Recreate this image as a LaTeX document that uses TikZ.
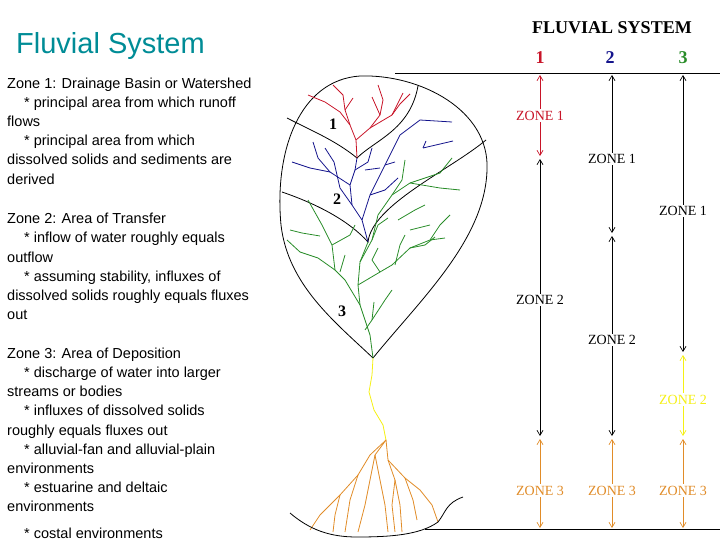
\documentclass[tikz,border=0pt]{standalone}
\usepackage{fontspec}
\setmainfont{Liberation Serif}
\newfontfamily\arial{Liberation Sans}
\usetikzlibrary{arrows.meta}
\definecolor{teal1}{RGB}{0,140,150}
\definecolor{redz}{RGB}{200,20,40}
\definecolor{bluez}{RGB}{20,20,140}
\definecolor{greenz}{RGB}{40,140,40}
\definecolor{yellz}{RGB}{245,240,20}
\definecolor{orz}{RGB}{225,140,40}
\begin{document}
\begin{tikzpicture}[x=1pt,y=-1pt,
  txt/.style={anchor=base west,font=\arial\fontsize{14.5}{16}\selectfont,inner sep=0pt},
  zl/.style={font=\fontsize{14}{15}\selectfont,fill=white,inner sep=1.5pt},
  hd/.style={font=\bfseries\fontsize{18}{20}\selectfont},
  arr/.style={{Straight Barb[length=5pt,width=6pt]}-{Straight Barb[length=5pt,width=6pt]},line width=0.7pt},
  riv/.style={line width=0.8pt,line join=round}]
\useasboundingbox (0,0) rectangle (720,540);
% left text
\node[anchor=west,inner sep=0pt,text=teal1,font=\arial\fontsize{29}{30}\selectfont] (title) at (16,46) {Fluvial System};
\foreach \y/\t in {84/{Zone 1: Drainage Basin or Watershed},122/flows,160/{dissolved solids and sediments are},180/derived,218/{Zone 2: Area of Transfer},257/outflow,295/{dissolved solids roughly equals fluxes},314/out,353/{Zone 3: Area of Deposition},391/{streams or bodies},430/{roughly equals fluxes out},468/environments,506/environments}
  \node[txt] at (7,\y+5) {\t};
\foreach \y/\t in {103/{* principal area from which runoff},141/{* principal area from which},238/{* inflow of water roughly equals},276/{* assuming stability, influxes of},372/{* discharge of water into larger},410/{* influxes of dissolved solids},449/{* alluvial-fan and alluvial-plain},487/{* estuarine and deltaic}}
  \node[txt] at (24,\y+5) {\t};
\node[txt] (cost) at (24,538) {* costal environments};
% right header
\node[hd] (hdr) at (612,28) {FLUVIAL SYSTEM};
\node[hd,text=redz] (c1) at (540,58) {1};
\node[hd,text=bluez] (c2) at (610,58) {2};
\node[hd,text=greenz] (c3) at (683,58) {3};
\coordinate (tl) at (395,73); \coordinate (tr) at (720,73);
\coordinate (bl) at (425,529); \coordinate (br) at (720,529);
\draw[line width=0.8pt] (tl) -- (tr);
\draw[line width=0.8pt] (bl) -- (br);
% column 1
\coordinate (a1) at (540,75); \coordinate (a2) at (540,156);
\coordinate (a3) at (540,159); \coordinate (a4) at (540,436);
\coordinate (a5) at (540,439); \coordinate (a6) at (540,528);
\draw[arr,redz] (a1) -- (a2) node[zl,midway,text=redz] {ZONE 1};
\draw[arr] (a3) -- (a4) node[zl,pos=0.51] {ZONE 2};
\draw[arr,orz] (a5) -- (a6) node[zl,pos=0.58,text=orz] {ZONE 3};
% column 2
\coordinate (b1) at (612,75); \coordinate (b2) at (612,233);
\coordinate (b3) at (612,236); \coordinate (b4) at (612,436);
\coordinate (b5) at (612,439); \coordinate (b6) at (612,528);
\draw[arr] (b1) -- (b2) node[zl,pos=0.53] {ZONE 1};
\draw[arr] (b3) -- (b4) node[zl,pos=0.52] {ZONE 2};
\draw[arr,orz] (b5) -- (b6) node[zl,pos=0.58,text=orz] {ZONE 3};
% column 3
\coordinate (d1) at (683,75); \coordinate (d2) at (683,352);
\coordinate (d3) at (683,355); \coordinate (d4) at (683,436);
\coordinate (d5) at (683,439); \coordinate (d6) at (683,528);
\draw[arr] (d1) -- (d2) node[zl,pos=0.49] {ZONE 1};
\draw[arr,yellz] (d3) -- (d4) node[zl,pos=0.55,text=yellz] {ZONE 2};
\draw[arr,orz] (d5) -- (d6) node[zl,pos=0.58,text=orz] {ZONE 3};
% basin outline
\draw[line width=0.8pt] (373,358) .. controls (335,322) and (288,285) .. (281,225) .. controls (274,150) and (300,80) .. (360,76) .. controls (420,74) and (490,110) .. (487,170) .. controls (485,240) and (420,300) .. (373,358);
% zone dividers
\draw[line width=0.8pt] (287,118) .. controls (310,130) and (335,140) .. (357,158) .. controls (375,140) and (410,130) .. (418,86);
\draw[line width=0.8pt] (282,192) .. controls (320,205) and (350,222) .. (368,242) .. controls (372,205) and (450,170) .. (486,140);
% numbers
\node[font=\bfseries\fontsize{16}{17}\selectfont] (n1) at (333,124) {1};
\node[font=\bfseries\fontsize{16}{17}\selectfont] (n2) at (337,199) {2};
\node[font=\bfseries\fontsize{16}{17}\selectfont] (n3) at (342,311) {3};
% red streams
\draw[riv,redz] (357,158)--(356,140)--(350,125)--(345,110)--(343,95)--(333,85);
\draw[riv,redz] (350,125)--(340,112)--(325,102)--(308,95);
\draw[riv,redz] (356,140)--(370,128)--(380,115)--(383,100)--(378,85);
\draw[riv,redz] (370,128)--(392,115)--(403,93);
\draw[riv,redz] (380,115)--(372,97);
\draw[riv,redz] (392,115)--(400,104)--(410,94);
\draw[riv,redz] (345,110)--(353,98);
% blue streams
\draw[riv,bluez] (368,242)--(362,220)--(352,205)--(350,185)--(355,170)--(357,158);
\draw[riv,bluez] (352,205)--(340,188)--(334,162)--(325,148);
\draw[riv,bluez] (350,185)--(330,172)--(310,168)--(292,162);
\draw[riv,bluez] (330,172)--(318,158)--(313,142);
\draw[riv,bluez] (362,220)--(370,195)--(385,165)--(400,135)--(420,120)--(452,122);
\draw[riv,bluez] (370,195)--(385,190)--(398,178);
\draw[riv,bluez] (355,170)--(368,162)--(372,148);
\draw[riv,bluez] (365,170)--(380,168);
\draw[riv,bluez] (423,148)--(453,141);
\draw[riv,bluez] (423,148)--(426,141);
\draw[riv,bluez] (385,165)--(395,162);
% green streams
\draw[riv,greenz] (373,358)--(370,335)--(360,305)--(358,285)--(360,262)--(368,242);
\draw[riv,greenz] (360,305)--(345,280)--(335,270)--(332,245)--(322,225)--(308,200);
\draw[riv,greenz] (335,270)--(318,258)--(300,252)--(287,240);
\draw[riv,greenz] (332,245)--(350,235)--(355,225);
\draw[riv,greenz] (320,236)--(302,233)--(290,230);
\draw[riv,greenz] (358,285)--(380,272)--(392,265)--(410,248)--(430,240)--(440,225)--(450,215);
\draw[riv,greenz] (360,262)--(372,240)--(378,215)--(392,195)--(410,183)--(440,173)--(452,158);
\draw[riv,greenz] (392,195)--(402,180)--(405,160);
\draw[riv,greenz] (410,248)--(425,245)--(435,237);
\draw[riv,greenz] (380,272)--(372,260)--(378,248);
\draw[riv,greenz] (372,240)--(378,225)--(388,218);
\draw[riv,greenz] (410,183)--(440,188)--(460,190);
\draw[riv,greenz] (430,240)--(445,238);
\draw[riv,greenz] (365,330)--(372,320)--(385,300)--(392,290);
\draw[riv,greenz] (372,320)--(374,302);
\draw[riv,greenz] (398,220)--(415,210)--(425,205);
\draw[riv,greenz] (410,230)--(430,225);
\draw[riv,greenz] (395,265)--(400,245)--(405,235);
\draw[riv,greenz] (340,272)--(345,255);
% yellow
\draw[riv,yellz] (373,358)--(372,375)--(369,392)--(374,410)--(383,425)--(386,440);
% orange delta
\draw[riv,orz] (386,440)--(370,455)--(358,475)--(340,495)--(320,515)--(310,530);
\draw[riv,orz] (386,440)--(375,455)--(370,480)--(365,505)--(358,532);
\draw[riv,orz] (375,455)--(380,480)--(385,505)--(388,532);
\draw[riv,orz] (386,440)--(388,460)--(395,480)--(400,505)--(402,532);
\draw[riv,orz] (388,460)--(405,478)--(420,490)--(432,505)--(438,522);
\draw[riv,orz] (405,478)--(413,500)--(417,520);
\draw[riv,orz] (358,475)--(350,500)--(345,532);
\draw[riv,orz] (340,495)--(335,515)--(333,532);
\draw[riv,orz] (395,480)--(392,505)--(395,532);
% coast
\draw[line width=0.8pt] (290,513) .. controls (310,530) and (330,537) .. (357,537) .. controls (390,537) and (420,535) .. (438,522) .. controls (446,512) and (446,503) .. (463,497);
\end{tikzpicture}
\end{document}
